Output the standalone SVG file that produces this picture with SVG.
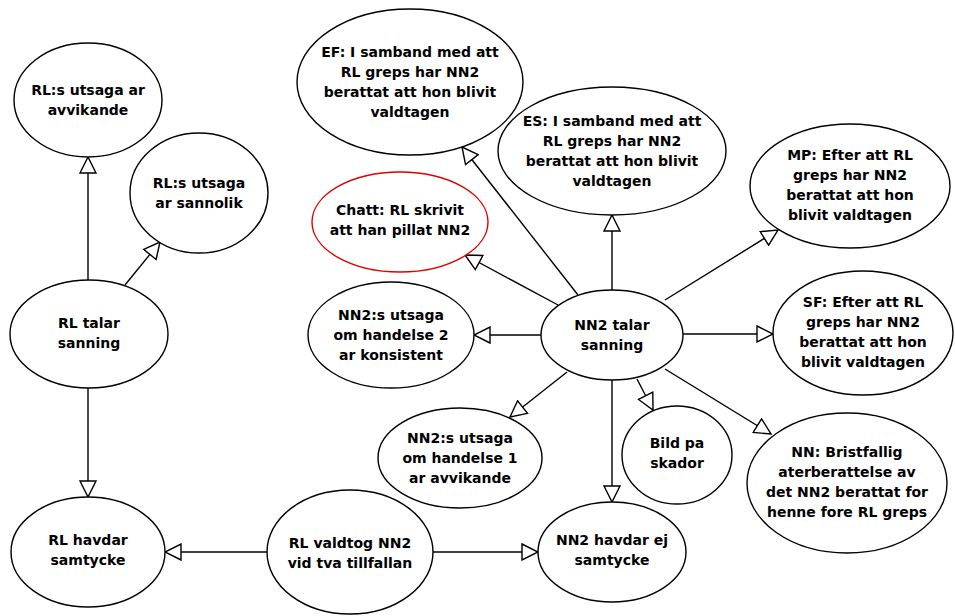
<svg xmlns="http://www.w3.org/2000/svg" width="955" height="616" viewBox="0 0 955 616">
<style>
.n{fill:#fff;stroke:#000;stroke-width:1.4}
.r{fill:#fff;stroke:#e00000;stroke-width:1.4}
.t{font-family:"DejaVu Sans","Liberation Sans",sans-serif;font-size:14px;font-weight:bold;text-anchor:middle;fill:#000}
.c{stroke:#000;stroke-width:1.4;fill:none;marker-end:url(#tri)}
</style>
<defs>
<marker id="tri" markerUnits="userSpaceOnUse" markerWidth="18" markerHeight="18" viewBox="-1 -1 18 18" refX="16" refY="8" orient="auto">
<path d="M0,0 L16,8 L0,16 Z" fill="#fff" stroke="#000" stroke-width="1.4"/>
</marker>
</defs>
<rect width="955" height="616" fill="#fff"/>
<g id="connectors">
<line class="c" x1="88" y1="280" x2="88" y2="157"/>
<line class="c" x1="125" y1="285" x2="160" y2="242"/>
<line class="c" x1="88" y1="388" x2="88" y2="497"/>
<line class="c" x1="267" y1="552" x2="165" y2="552"/>
<line class="c" x1="433" y1="552" x2="538" y2="552"/>
<line class="c" x1="541" y1="335" x2="474" y2="335"/>
<line class="c" x1="567" y1="372" x2="510" y2="417"/>
<line class="c" x1="612" y1="380" x2="612" y2="502"/>
<line class="c" x1="637" y1="379" x2="653" y2="410"/>
<line class="c" x1="665" y1="369" x2="771" y2="434"/>
<line class="c" x1="683" y1="334" x2="773" y2="334"/>
<line class="c" x1="665" y1="300" x2="778" y2="230"/>
<line class="c" x1="612" y1="290" x2="612" y2="215"/>
<line class="c" x1="578" y1="295" x2="462" y2="147"/>
<line class="c" x1="558" y1="305" x2="465" y2="255"/>
</g>
<g id="n_rl_avv"><ellipse class="n" cx="88" cy="100" rx="74" ry="57"/><text class="t" x="88" y="95">RL:s utsaga ar</text><text class="t" x="88" y="115">avvikande</text></g>
<g id="n_rl_sann"><ellipse class="n" cx="199" cy="193" rx="69" ry="60"/><text class="t" x="199" y="188">RL:s utsaga</text><text class="t" x="199" y="208">ar sannolik</text></g>
<g id="n_rl_talar"><ellipse class="n" cx="89" cy="334" rx="79" ry="54"/><text class="t" x="89" y="328">RL talar</text><text class="t" x="89" y="348">sanning</text></g>
<g id="n_rl_havdar"><ellipse class="n" cx="88" cy="552" rx="77" ry="55"/><text class="t" x="88" y="545">RL havdar</text><text class="t" x="88" y="565">samtycke</text></g>
<g id="n_rl_valdtog"><ellipse class="n" cx="350" cy="552" rx="83" ry="62"/><text class="t" x="350" y="548">RL valdtog NN2</text><text class="t" x="350" y="568">vid tva tillfallan</text></g>
<g id="n_nn2_havdar"><ellipse class="n" cx="612" cy="552" rx="74" ry="50"/><text class="t" x="612" y="545">NN2 havdar ej</text><text class="t" x="612" y="565">samtycke</text></g>
<g id="n_nn2_talar"><ellipse class="n" cx="612" cy="335" rx="71" ry="45"/><text class="t" x="612" y="330">NN2 talar</text><text class="t" x="612" y="350">sanning</text></g>
<g id="n_bild"><ellipse class="n" cx="677" cy="455" rx="55" ry="49"/><text class="t" x="677" y="448">Bild pa</text><text class="t" x="677" y="468">skador</text></g>
<g id="n_nn"><ellipse class="n" cx="847" cy="483" rx="100" ry="70"/><text class="t" x="847" y="457">NN: Bristfallig</text><text class="t" x="847" y="477">aterberattelse av</text><text class="t" x="847" y="497">det NN2 berattat for</text><text class="t" x="847" y="517">henne fore RL greps</text></g>
<g id="n_sf"><ellipse class="n" cx="863" cy="333" rx="90" ry="62"/><text class="t" x="863" y="307">SF: Efter att RL</text><text class="t" x="863" y="327">greps har NN2</text><text class="t" x="863" y="347">berattat att hon</text><text class="t" x="863" y="367">blivit valdtagen</text></g>
<g id="n_mp"><ellipse class="n" cx="850" cy="186" rx="100" ry="62"/><text class="t" x="850" y="160">MP: Efter att RL</text><text class="t" x="850" y="180">greps har NN2</text><text class="t" x="850" y="200">berattat att hon</text><text class="t" x="850" y="220">blivit valdtagen</text></g>
<g id="n_es"><ellipse class="n" cx="612" cy="151" rx="114" ry="64"/><text class="t" x="612" y="126">ES: I samband med att</text><text class="t" x="612" y="146">RL greps har NN2</text><text class="t" x="612" y="166">berattat att hon blivit</text><text class="t" x="612" y="186">valdtagen</text></g>
<g id="n_ef"><ellipse class="n" cx="410" cy="82" rx="113" ry="73"/><text class="t" x="410" y="57">EF: I samband med att</text><text class="t" x="410" y="77">RL greps har NN2</text><text class="t" x="410" y="97">berattat att hon blivit</text><text class="t" x="410" y="117">valdtagen</text></g>
<g id="n_chatt"><ellipse class="r" cx="400" cy="222" rx="88" ry="50"/><text class="t" x="400" y="215">Chatt: RL skrivit</text><text class="t" x="400" y="235">att han pillat NN2</text></g>
<g id="n_h2"><ellipse class="n" cx="391" cy="335" rx="83" ry="53"/><text class="t" x="391" y="320">NN2:s utsaga</text><text class="t" x="391" y="340">om handelse 2</text><text class="t" x="391" y="360">ar konsistent</text></g>
<g id="n_h1"><ellipse class="n" cx="460" cy="458" rx="82" ry="50"/><text class="t" x="460" y="443">NN2:s utsaga</text><text class="t" x="460" y="463">om handelse 1</text><text class="t" x="460" y="483">ar avvikande</text></g>
</svg>
